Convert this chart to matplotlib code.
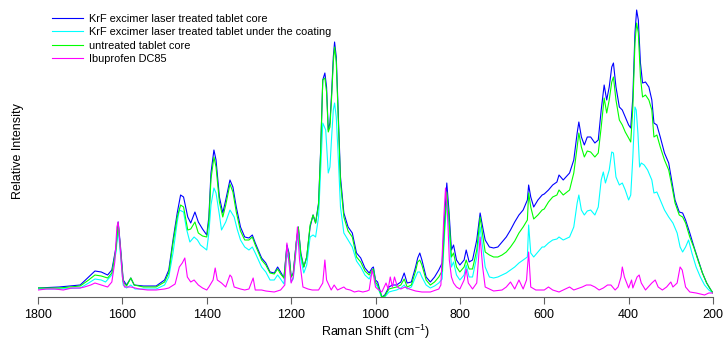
import matplotlib
matplotlib.use("Agg")
import matplotlib.pyplot as plt

plt.rcParams["font.family"] = ["Liberation Sans", "DejaVu Sans"]
plt.rcParams["mathtext.fontset"] = "custom"
plt.rcParams["mathtext.rm"] = "Liberation Sans"

# ---- Data (Raman shift in cm-1, intensity in arbitrary units) -------------
CORE_X = [1800, 1750, 1700, 1680, 1665, 1650, 1635, 1625, 1615, 1610, 1605, 1598, 1590, 1580, 1572, 1550,
          1520, 1500, 1490, 1480, 1470, 1462, 1455, 1445, 1438, 1428, 1420, 1410, 1400, 1395, 1390, 1383,
          1378, 1370, 1362, 1355, 1345, 1338, 1330, 1320, 1310, 1300, 1292, 1285, 1270, 1260, 1250, 1240,
          1232, 1225, 1217, 1210, 1205, 1200, 1195, 1188, 1183, 1177, 1170, 1163, 1155, 1148, 1142, 1135,
          1130, 1125, 1120, 1116, 1112, 1108, 1104, 1100, 1097, 1093, 1088, 1083, 1075, 1065, 1055, 1045,
          1035, 1025, 1015, 1008, 1005, 1000, 995, 985, 978, 968, 960, 950, 940, 932, 925, 915, 905, 900,
          895, 890, 880, 870, 860, 850, 842, 836, 831, 826, 820, 815, 808, 800, 790, 785, 778, 770, 760,
          752, 746, 740, 730, 720, 710, 700, 690, 680, 670, 660, 650, 640, 637, 632, 625, 615, 605, 600,
          590, 580, 570, 565, 555, 540, 530, 522, 518, 512, 505, 498, 490, 480, 472, 465, 458, 452, 446,
          440, 436, 430, 422, 415, 408, 400, 395, 390, 385, 381, 377, 372, 367, 360, 352, 345, 340, 333,
          325, 315, 305, 297, 290, 280, 272, 265, 255, 245, 235, 225, 215, 205, 200]
CORE_Y = [9, 10, 12, 20, 26, 25, 22, 27, 50, 75, 53, 17, 12, 19, 12, 11,
          11, 17, 27, 57, 84, 102, 100, 80, 74, 85, 75, 68, 62, 80, 124, 147,
          137, 100, 84, 97, 117, 110, 90, 70, 60, 59, 62, 54, 39, 34, 25, 24,
          30, 25, 19, 52, 44, 20, 24, 54, 70, 44, 30, 40, 70, 82, 74, 94,
          147, 217, 224, 210, 167, 174, 204, 240, 255, 240, 180, 120, 84, 70, 64, 44,
          39, 29, 24, 29, 30, 17, 15, 0, 2, 10, 12, 12, 15, 24, 14, 15, 30, 39,
          44, 37, 20, 15, 20, 27, 34, 80, 114, 87, 47, 52, 37, 32, 37, 47, 35, 37, 57,
          84, 70, 57, 50, 49, 50, 55, 60, 67, 75, 82, 87, 97, 112, 100, 90, 97, 102, 103,
          107, 112, 115, 122, 117, 124, 137, 164, 175, 160, 152, 160, 160, 154, 157, 187, 212, 197, 210,
          230, 234, 210, 190, 187, 180, 172, 169, 200, 264, 287, 277, 234, 214, 215, 210, 197, 174, 172,
          160, 144, 134, 114, 97, 85, 84, 77, 64, 50, 37, 24, 14, 7, 4]

COATED_X = [1800, 1750, 1700, 1680, 1665, 1650, 1640, 1625, 1615, 1610, 1605, 1598, 1590, 1580, 1570, 1550,
            1520, 1500, 1490, 1480, 1470, 1465, 1455, 1448, 1440, 1430, 1422, 1415, 1400, 1395, 1390, 1383,
            1378, 1370, 1365, 1355, 1345, 1335, 1328, 1320, 1310, 1300, 1292, 1285, 1270, 1260, 1250, 1240,
            1232, 1225, 1217, 1210, 1205, 1200, 1195, 1188, 1183, 1177, 1170, 1163, 1155, 1148, 1142, 1135,
            1130, 1125, 1118, 1112, 1108, 1104, 1100, 1097, 1093, 1088, 1083, 1075, 1065, 1055, 1045, 1035,
            1025, 1015, 1008, 1005, 1000, 995, 985, 978, 968, 960, 950, 940, 932, 925, 915, 905, 900, 895,
            890, 880, 870, 860, 850, 842, 836, 831, 826, 820, 815, 808, 800, 790, 785, 778, 770, 760, 752,
            746, 740, 730, 720, 710, 700, 690, 680, 670, 660, 650, 640, 637, 632, 625, 615, 605, 600, 590,
            580, 570, 565, 555, 540, 530, 522, 518, 512, 505, 498, 490, 480, 472, 465, 460, 455, 446, 440,
            436, 430, 422, 415, 408, 400, 395, 390, 385, 382, 378, 374, 370, 363, 355, 345, 340, 333, 325,
            315, 305, 295, 285, 278, 272, 265, 258, 250, 240, 230, 220, 210, 200]
COATED_Y = [8, 8, 9, 14, 18, 17, 15, 22, 45, 68, 45, 12, 9, 12, 8, 8,
            8, 12, 20, 44, 75, 87, 85, 68, 55, 60, 57, 52, 47, 64, 92, 109,
            104, 82, 67, 75, 87, 80, 68, 57, 50, 47, 50, 44, 30, 25, 17, 17,
            22, 18, 13, 44, 36, 15, 18, 48, 64, 38, 24, 32, 60, 62, 60, 80,
            127, 174, 167, 124, 130, 160, 187, 194, 180, 137, 90, 64, 57, 50, 36, 30,
            22, 18, 25, 27, 13, 10, -1, 0, 5, 6, 7, 9, 12, 8, 10, 20, 25, 25,
            20, 12, 9, 11, 14, 18, 65, 97, 70, 30, 35, 22, 17, 22, 32, 20, 20, 40, 70,
            50, 30, 20, 19, 20, 22, 24, 27, 30, 34, 37, 40, 72, 44, 40, 45, 50, 50, 54,
            57, 58, 60, 57, 60, 70, 94, 102, 87, 82, 86, 87, 82, 90, 117, 125, 114, 127, 145,
            144, 120, 112, 114, 107, 97, 102, 140, 190, 187, 164, 130, 134, 132, 127, 117, 104, 105, 97,
            87, 80, 74, 64, 50, 45, 50, 57, 44, 30, 20, 12, 7, 4]

UNTREATED_X = CORE_X
UNTREATED_Y = [9, 9, 11, 17, 22, 21, 19, 24, 48, 74, 50, 15, 11, 19, 12, 10,
               10, 15, 24, 54, 80, 92, 90, 67, 68, 75, 64, 61, 60, 76, 118, 140,
               130, 95, 80, 92, 113, 105, 85, 66, 57, 57, 60, 52, 37, 32, 24, 23,
               28, 23, 19, 50, 42, 20, 23, 54, 70, 42, 30, 40, 72, 82, 74, 92,
               145, 217, 219, 205, 165, 170, 200, 235, 250, 235, 175, 115, 80, 66, 60, 40,
               35, 26, 22, 27, 28, 15, 12, 0, 1, 8, 9, 10, 12, 18, 10, 12, 26, 35,
               37, 32, 17, 12, 15, 20, 26, 72, 105, 80, 40, 44, 30, 25, 30, 37, 28, 28, 47,
               80, 62, 45, 42, 40, 40, 42, 45, 50, 56, 64, 70, 77, 104, 90, 78, 82, 87, 88,
               95, 100, 102, 107, 102, 107, 124, 150, 164, 150, 140, 146, 145, 140, 144, 170, 199, 184, 197,
               215, 220, 197, 177, 172, 165, 159, 155, 190, 254, 274, 264, 220, 200, 202, 197, 187, 160, 162,
               150, 137, 127, 110, 94, 82, 80, 74, 60, 49, 36, 24, 14, 7, 4]

IBU_X = [1800, 1780, 1760, 1740, 1720, 1700, 1690, 1675, 1665, 1650, 1635, 1625, 1618, 1613, 1610, 1606,
         1600, 1595, 1580, 1560, 1540, 1520, 1500, 1490, 1475, 1465, 1458, 1452, 1446, 1438, 1430, 1420,
         1410, 1400, 1395, 1385, 1380, 1375, 1365, 1355, 1345, 1341, 1335, 1320, 1310, 1300, 1290, 1285,
         1270, 1260, 1240, 1225, 1215, 1210, 1205, 1200, 1195, 1190, 1185, 1180, 1172, 1160, 1150, 1135,
         1125, 1120, 1116, 1105, 1098, 1090, 1075, 1070, 1060, 1050, 1040, 1030, 1020, 1015, 1008, 1004,
         1000, 995, 985, 975, 970, 965, 960, 955, 948, 940, 930, 920, 905, 890, 870, 850, 845, 838, 834,
         829, 825, 820, 815, 808, 800, 790, 785, 780, 770, 760, 752, 746, 740, 720, 700, 690, 680, 670,
         660, 650, 642, 637, 632, 620, 600, 590, 580, 565, 555, 540, 530, 510, 500, 490, 480, 470, 460,
         450, 442, 432, 425, 418, 415, 410, 400, 393, 390, 380, 375, 370, 360, 345, 337, 330, 320, 310,
         300, 295, 285, 278, 273, 265, 255, 240, 220, 210, 200]
IBU_Y = [7, 8, 8, 7, 9, 9, 10, 12, 14, 12, 10, 15, 35, 70, 75, 55,
         20, 10, 10, 8, 7, 7, 8, 9, 13, 30, 34, 39, 20, 15, 17, 12,
         9, 7, 10, 17, 29, 17, 14, 10, 22, 20, 10, 8, 7, 8, 19, 7,
         7, 6, 5, 7, 12, 54, 34, 14, 20, 40, 70, 37, 10, 8, 7, 7,
         14, 37, 17, 7, 12, 7, 10, 8, 7, 5, 6, 5, 6, 7, 27, 20,
         10, 8, 5, 14, 8, 20, 10, 20, 10, 8, 10, 8, 6, 5, 5, 8, 12, 80, 109,
         80, 37, 20, 14, 10, 8, 17, 28, 14, 8, 14, 60, 30, 10, 6, 7, 10, 15, 8,
         17, 8, 17, 45, 10, 7, 7, 10, 7, 5, 7, 10, 7, 10, 12, 12, 10, 7, 9,
         12, 12, 7, 10, 20, 30, 20, 9, 17, 9, 20, 22, 14, 7, 14, 17, 10, 7, 10,
         15, 10, 14, 30, 27, 10, 5, 4, 2, 4, 4]

SERIES = [
    ("KrF excimer laser treated tablet core", CORE_X, CORE_Y, "#0000ff"),
    ("KrF excimer laser treated tablet under the coating", COATED_X, COATED_Y, "#00ffff"),
    ("untreated tablet core", UNTREATED_X, UNTREATED_Y, "#00ff00"),
    ("Ibuprofen DC85", IBU_X, IBU_Y, "#ff00ff"),
]
XTICKS = [1800, 1600, 1400, 1200, 1000, 800, 600, 400, 200]

# ---- Plot -----------------------------------------------------------------
fig = plt.figure(figsize=(7.27, 3.41), dpi=100)
ax = fig.add_axes([38 / 727, 1 - 297 / 341, 675 / 727, 292 / 341])

for label, xs, ys, color in SERIES:
    ax.plot(xs, ys, color=color, lw=0.8, label=label)

ax.set_xlim(1800, 200)
ax.set_ylim(0, 292)
ax.set_xticks(XTICKS)
ax.set_yticks([])
for s in ("top", "right", "left"):
    ax.spines[s].set_visible(False)
ax.spines["bottom"].set_color("#606060")
ax.tick_params(axis="x", colors="#606060", labelcolor="black", labelsize=9, length=5, pad=4)
ax.set_xlabel("Raman Shift (cm$^{-1}$)", fontsize=9, labelpad=1)
ax.set_ylabel("Relative Intensity", fontsize=9, labelpad=10)

leg = ax.legend(loc="upper left", bbox_to_anchor=(52 / 727, 1 - 14 / 341),
                bbox_transform=fig.transFigure, frameon=False, fontsize=7.9,
                handlelength=2.8, handletextpad=0.55, labelspacing=0.3,
                borderpad=0, borderaxespad=0)

fig.savefig("out.png", dpi=100)
